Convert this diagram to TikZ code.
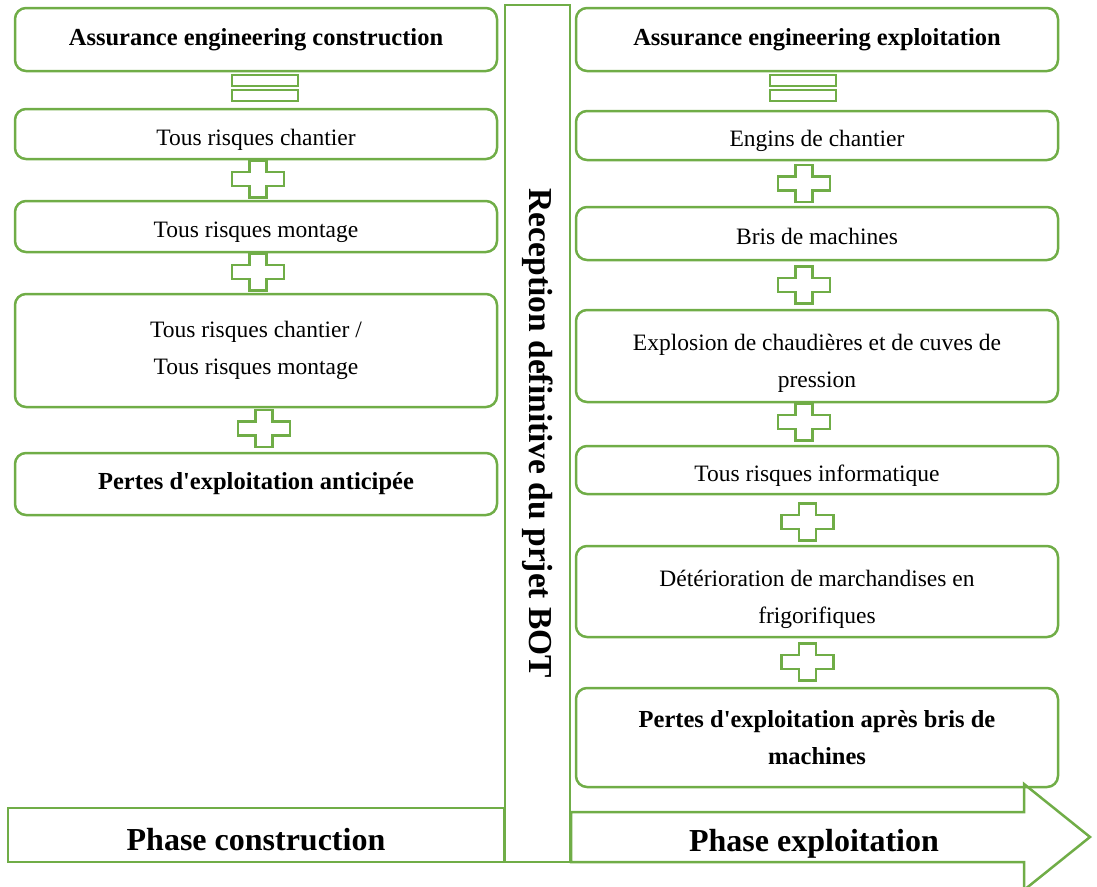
\documentclass[tikz,border=0pt]{standalone}
\usepackage{fontspec}
\setmainfont{Liberation Serif}
\definecolor{grn}{HTML}{70AD47}
\newcommand\lift[1]{\rule{0pt}{#1}}
\tikzset{
  gline/.style={draw=grn, line width=2.5pt},
  box/.style={gline, rounded corners=11pt, minimum width=482pt, align=center, inner sep=0pt,
    font=\fontsize{23.5}{37}\selectfont},
  onebox/.style={box, text height=27pt, text depth=5pt},
  bbox/.style={box, font=\fontsize{24.5}{37}\selectfont\bfseries},
  sym/.style={gline, fill=white, line width=2.2pt},
  pics/plussym/.style={code={
    \draw[sym] (-8.5,-18.5) -- (8.5,-18.5) -- (8.5,-7) -- (26,-7) -- (26,7) -- (8.5,7) -- (8.5,18.5)
      -- (-8.5,18.5) -- (-8.5,7) -- (-26,7) -- (-26,-7) -- (-8.5,-7) -- cycle;}},
  pics/eqsym/.style={code={
    \draw[sym] (-33,-13) rectangle (33,-2);
    \draw[sym] (-33,2) rectangle (33,13);}}
}
\begin{document}
\begin{tikzpicture}[x=1pt,y=-1pt]
\useasboundingbox (0,0) rectangle (1097,886);

% central bar
\node[gline, rotate=-90, minimum width=857pt, minimum height=65pt, inner sep=0pt,
  font=\fontsize{33.5}{40}\selectfont\bfseries] (bar) at (537.5,433.5) {Reception definitive du prjet BOT};

% left column
\node[bbox, minimum height=63pt] (lb1) at (256,39.5) {Assurance engineering construction};
\node[onebox, minimum height=50pt] (lb2) at (256,134) {Tous risques chantier};
\node[onebox, minimum height=51pt] (lb3) at (256,226.5) {Tous risques montage};
\node[box, minimum height=113pt] (lb4) at (256,350.5) {Tous risques chantier /\\Tous risques montage};
\node[bbox, minimum height=62pt] (lb5) at (256,484) {Pertes d\textquotesingle exploitation anticipée};

\pic at (265,88) {eqsym};
\pic at (258,179) {plussym};
\pic at (258,272) {plussym};
\pic at (264,428.5) {plussym};

% right column
\node[bbox, minimum height=63pt] (rb1) at (817,39.5) {Assurance engineering exploitation};
\node[onebox, minimum height=49pt] (rb2) at (817,135.5) {Engins de chantier};
\node[onebox, minimum height=53pt] (rb3) at (817,233.5) {Bris de machines};
\node[box, minimum height=92pt] (rb4) at (817,356) {\lift{31pt}Explosion de chaudières et de cuves de\\pression};
\node[onebox, minimum height=48pt] (rb5) at (817,470) {Tous risques informatique};
\node[box, minimum height=91pt] (rb6) at (817,591.5) {\lift{33pt}Détérioration de marchandises en\\frigorifiques};
\node[bbox, minimum height=99pt] (rb7) at (817,737.5) {Pertes d\textquotesingle exploitation après bris de\\machines};

\pic at (803,88) {eqsym};
\pic at (804,183.5) {plussym};
\pic at (804,285) {plussym};
\pic at (804,422) {plussym};
\pic at (807.5,522) {plussym};
\pic at (807.5,662) {plussym};

% bottom phases
\node[gline, minimum width=496pt, minimum height=54pt, inner sep=0pt, text height=37pt, text depth=7pt,
  font=\fontsize{32}{38}\selectfont\bfseries] (pc) at (256,835) {Phase construction};
\draw[gline, line join=miter] (571,812) -- (1024,812) -- (1024,784) -- (1090,837) -- (1024,890)
  -- (1024,862) -- (571,862) -- cycle;
\node[font=\fontsize{32}{38}\selectfont\bfseries, inner sep=0pt] (pe) at (814,844) {Phase exploitation};
\end{tikzpicture}
\end{document}
